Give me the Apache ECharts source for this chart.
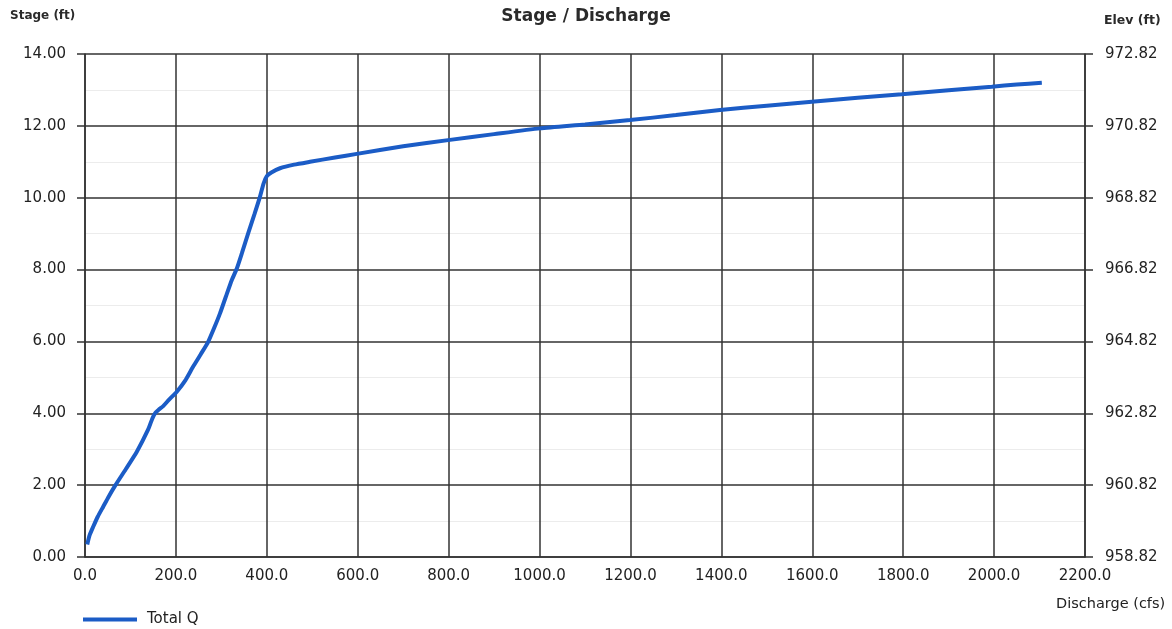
<!DOCTYPE html>
<html>
<head>
<meta charset="utf-8">
<style>
  html, body { margin: 0; padding: 0; background: #fff; }
  #chart { width: 1172px; height: 629px; }
</style>
<script src="https://cdn.jsdelivr.net/npm/echarts@6/dist/echarts.min.js"></script>
</head>
<body>
<div id="chart"></div>
<script>
// Rating curve: discharge (cfs) vs stage (ft)
const discharge = [5, 10, 18, 28, 40, 52, 66, 90, 114, 139, 148, 154, 162, 172, 185, 202, 220, 238, 255, 271,
  285, 297, 310, 323, 334, 345, 360, 373, 385, 393, 400, 410, 429, 460, 495, 550, 598, 700, 803, 900,
  1001, 1100, 1199, 1300, 1397, 1500, 1599, 1700, 1797, 1900, 1995, 2050, 2105];
const stage = [0.35, 0.6, 0.84, 1.12, 1.40, 1.68, 1.98, 2.45, 2.93, 3.55, 3.85, 4.0, 4.1, 4.2, 4.38, 4.6, 4.9, 5.30, 5.65, 5.99,
  6.4, 6.78, 7.25, 7.71, 8.03, 8.45, 9.05, 9.55, 10.03, 10.4, 10.6, 10.7, 10.82, 10.92, 11.0, 11.12, 11.22, 11.43, 11.61, 11.77,
  11.93, 12.04, 12.16, 12.30, 12.44, 12.56, 12.67, 12.78, 12.88, 12.99, 13.09, 13.15, 13.20];

// Stage datum: elevation of zero stage
const baseElevation = 958.82;

const xTicks = { min: 0, max: 2200, interval: 200 };
const yTicks = { min: 0, max: 14, interval: 2 };

const textColor = '#222';
const gridColor = '#333';
const font = '"DejaVu Sans", sans-serif';

const chart = echarts.init(document.getElementById('chart'), null, { renderer: 'canvas' });

const points = discharge.map((q, i) => [q, stage[i]]);

chart.setOption({
  animation: false,
  backgroundColor: '#fff',
  textStyle: { fontFamily: font },
  title: {
    text: 'Stage / Discharge',
    left: 'center',
    top: 3,
    textStyle: { fontSize: 17, fontWeight: 'bold', color: '#2a2a2a', fontFamily: font }
  },
  legend: {
    left: 78,
    top: 607,
    icon: 'rect',
    itemWidth: 54,
    itemHeight: 4,
    textStyle: { fontSize: 15, color: textColor, fontFamily: font, padding: [0, 0, 0, 5] },
    data: ['Total Q']
  },
  grid: { left: 85, right: 87, top: 54, bottom: 72, containLabel: false },
  xAxis: {
    type: 'value',
    min: xTicks.min, max: xTicks.max, interval: xTicks.interval,
    axisLine: { show: true, lineStyle: { color: gridColor, width: 1.5 } },
    axisTick: { show: false },
    axisLabel: {
      margin: 12, fontSize: 15, color: textColor, fontFamily: font,
      formatter: v => v.toFixed(1)
    },
    splitLine: { show: true, lineStyle: { color: gridColor, width: 1.5 } }
  },
  yAxis: [
    {
      type: 'value',
      position: 'left',
      min: yTicks.min, max: yTicks.max, interval: yTicks.interval,
      axisLine: { show: true, lineStyle: { color: gridColor, width: 1.5 } },
      axisTick: { show: true, inside: false, length: 8, lineStyle: { color: gridColor, width: 1.5 } },
      axisLabel: {
        margin: 19, fontSize: 15, color: textColor, fontFamily: font,
        formatter: v => v.toFixed(2)
      },
      splitLine: { show: true, lineStyle: { color: gridColor, width: 1.5 } },
      minorTick: { show: false, splitNumber: 2 },
      minorSplitLine: { show: true, lineStyle: { color: '#ececec', width: 1 } }
    },
    {
      type: 'value',
      position: 'right',
      min: yTicks.min, max: yTicks.max, interval: yTicks.interval,
      axisLine: { show: true, lineStyle: { color: gridColor, width: 1.5 } },
      axisTick: { show: true, inside: false, length: 8, lineStyle: { color: gridColor, width: 1.5 } },
      axisLabel: {
        margin: 20, fontSize: 15, color: textColor, fontFamily: font,
        formatter: v => (v + baseElevation).toFixed(2)
      },
      splitLine: { show: false }
    }
  ],
  graphic: [
    {
      type: 'text', left: 10, top: 10,
      style: { text: 'Stage (ft)', fontSize: 12, fontWeight: 'bold', fill: '#2a2a2a', fontFamily: font }
    },
    {
      type: 'text', left: 1104, top: 14,
      style: { text: 'Elev (ft)', fontSize: 12.5, fontWeight: 'bold', fill: '#2a2a2a', fontFamily: font }
    },
    {
      type: 'text', left: 1056, top: 597,
      style: { text: 'Discharge (cfs)', fontSize: 14.5, fill: textColor, fontFamily: font }
    }
  ],
  series: [
    {
      name: 'Total Q',
      type: 'line',
      data: points,
      showSymbol: false,
      symbol: 'none',
      smooth: 0.2,
      lineStyle: { color: '#1b5cc6', width: 4 },
      itemStyle: { color: '#1b5cc6' }
    }
  ]
});
</script>
</body>
</html>
